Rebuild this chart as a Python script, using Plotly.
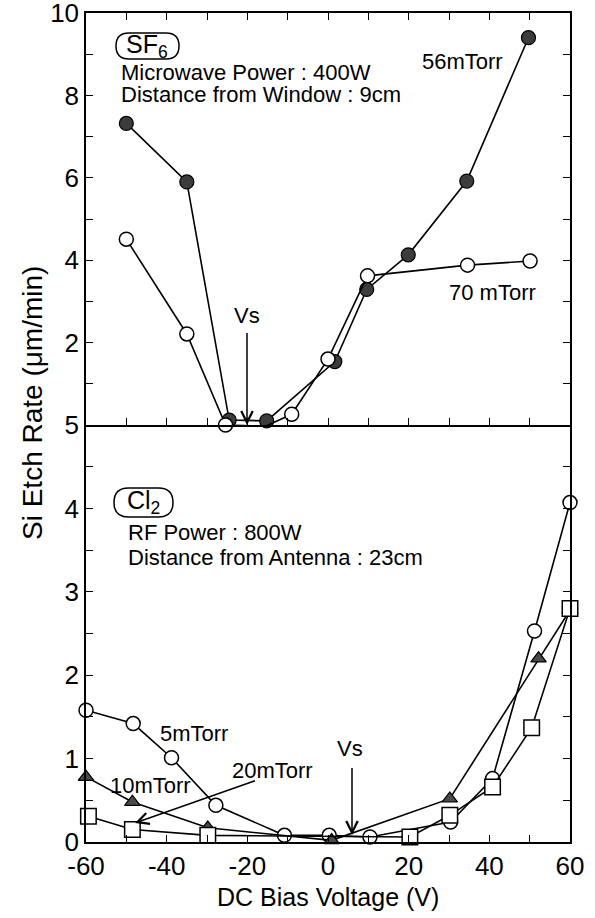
import plotly.graph_objects as go

# ---------------- data ----------------
# SF6 panel (top)
sf6_56_x = [-50, -35, -24.5, -15.2, 1.7, 9.6, 19.9, 34.4, 49.7]
sf6_56_y = [7.32, 5.90, 0.12, 0.10, 1.54, 3.29, 4.13, 5.92, 9.40]
sf6_70_x = [-50, -35, -25.4, -15.5, -9.0, 0.0, 9.8, 34.6, 50.1]
sf6_70_y = [4.51, 2.21, 0.00, -0.03, 0.26, 1.60, 3.62, 3.88, 3.98]

# Cl2 panel (bottom)
cl_5_x = [-60, -48.3, -38.8, -27.8, -10.8, 0.3, 10.4, 30.4, 40.8, 51.2, 60]
cl_5_y = [1.58, 1.42, 1.01, 0.44, 0.08, 0.08, 0.06, 0.24, 0.76, 2.53, 4.07]
cl_10_x = [-60, -48.5, -29.8, 0.9, 30.2, 52.2, 60]
cl_10_y = [0.78, 0.48, 0.17, 0.02, 0.52, 2.20, 2.78]
cl_20_x = [-59.4, -48.5, -29.8, 20.3, 30.2, 40.8, 50.5, 60]
cl_20_y = [0.31, 0.15, 0.08, 0.06, 0.32, 0.66, 1.37, 2.80]

x_ticks = list(range(-60, 61, 10))
x_ticktext = [str(v) if v % 20 == 0 else "" for v in x_ticks]
top_ticks = list(range(0, 11))
top_ticktext = [str(v) if (v % 2 == 0 and v > 0) else "" for v in top_ticks]
bot_ticks = [i * 0.5 for i in range(11)]
bot_ticktext = [str(int(v)) if v == int(v) else "" for v in bot_ticks]

FONT = "Liberation Sans, Arial, Helvetica, sans-serif"
W, H = 595, 918
L, R, T, B = 86, 570, 13, 842  # plot area in pixels
SPLIT = 425


def px(xp):
    return (xp - L) / (R - L)


def py(yp):
    return (B - yp) / (B - T)


fig = go.Figure()

line = dict(color="black", width=1.6)

# bottom panel traces
fig.add_trace(go.Scatter(x=cl_5_x, y=cl_5_y, mode="lines+markers", line=line,
                         marker=dict(symbol="circle", size=14, color="white",
                                     line=dict(color="black", width=1.5)),
                         xaxis="x", yaxis="y", cliponaxis=False, name="5mTorr"))
fig.add_trace(go.Scatter(x=cl_10_x, y=cl_10_y, mode="lines+markers", line=line,
                         marker=dict(symbol="triangle-up", size=13.5, color="#4a4a4a",
                                     line=dict(color="black", width=1.2)),
                         xaxis="x", yaxis="y", cliponaxis=False, name="10mTorr"))
fig.add_trace(go.Scatter(x=cl_20_x, y=cl_20_y, mode="lines+markers", line=line,
                         marker=dict(symbol="square", size=15.5, color="white",
                                     line=dict(color="black", width=1.5)),
                         xaxis="x", yaxis="y", cliponaxis=False, name="20mTorr"))

# top panel traces
fig.add_trace(go.Scatter(x=sf6_56_x, y=sf6_56_y, mode="lines+markers", line=line,
                         marker=dict(symbol="circle", size=14, color="#3c3c3c",
                                     line=dict(color="black", width=1.2)),
                         xaxis="x2", yaxis="y2", cliponaxis=False, name="56mTorr"))
fig.add_trace(go.Scatter(x=sf6_70_x, y=sf6_70_y, mode="lines+markers", line=line,
                         marker=dict(symbol="circle", size=14, color="white",
                                     line=dict(color="black", width=1.5)),
                         xaxis="x2", yaxis="y2", cliponaxis=False, name="70 mTorr"))

split = py(SPLIT)
axis_common = dict(showline=True, linecolor="black", linewidth=1.5, ticks="inside",
                   ticklen=7, tickwidth=1.3, tickcolor="black", showgrid=False,
                   zeroline=False, automargin=False, ticklabeloverflow="allow",
                   tickfont=dict(family=FONT, size=26, color="black"))

fig.update_layout(
    width=W, height=H,
    margin=dict(l=L, r=W - R, t=T, b=H - B, pad=0, autoexpand=False),
    paper_bgcolor="white", plot_bgcolor="white",
    showlegend=False,
    xaxis=dict(domain=[0, 1], range=[-60, 60], anchor="y", tickvals=x_ticks,
               ticktext=x_ticktext, mirror=False, **axis_common),
    xaxis2=dict(domain=[0, 1], range=[-60, 60], anchor="y2", matches="x",
                tickvals=x_ticks, showticklabels=False, mirror="ticks", **axis_common),
    yaxis=dict(domain=[0, split], range=[0, 5], anchor="x", tickvals=bot_ticks,
               ticktext=bot_ticktext, mirror="ticks", **axis_common),
    yaxis2=dict(domain=[split, 1], range=[0, 10], anchor="x2", tickvals=top_ticks,
                ticktext=top_ticktext, mirror="ticks", **axis_common),
)

ann = []


def text(t, xp, yp, size=21, xanchor="center"):
    ann.append(dict(text=t, x=px(xp), y=py(yp), xref="paper", yref="paper",
                    showarrow=False, xanchor=xanchor, yanchor="middle",
                    font=dict(family=FONT, size=size, color="black")))


def arrow(x_head, y_head, x_tail, y_tail):
    ann.append(dict(text=" ", x=px(x_head), y=py(y_head), xref="paper", yref="paper",
                    ax=x_tail - x_head, ay=y_tail - y_head, showarrow=True,
                    arrowhead=5, arrowsize=1.5, arrowwidth=1.5, arrowcolor="black",
                    standoff=0, font=dict(size=2)))


# axis titles
ann.append(dict(text="Si Etch Rate (μm/min)", x=px(33), y=py(403), xref="paper",
                yref="paper", showarrow=False, textangle=-90, xanchor="center",
                yanchor="middle", font=dict(family=FONT, size=28, color="black")))
text("DC Bias Voltage (V)", 328, 897, size=25)

# top panel texts
text("SF<sub>6</sub>", 147, 46, size=25)
text("Microwave Power : 400W", 119, 72, size=22, xanchor="left")
text("Distance from Window : 9cm", 119, 95, size=22, xanchor="left")
text("56mTorr", 462, 61, size=22)
text("70 mTorr", 492, 293, size=22)
text("Vs", 247, 315, size=22)
arrow(247, 425, 247, 330)

# bottom panel texts
text("Cl<sub>2</sub>", 143, 502, size=25)
text("RF Power : 800W", 126, 532, size=22, xanchor="left")
text("Distance from Antenna : 23cm", 126, 557, size=22, xanchor="left")
text("5mTorr", 194, 733, size=22)
text("10mTorr", 150, 785, size=22)
text("20mTorr", 272, 770, size=22)
text("Vs", 350, 748, size=22)
arrow(135, 823, 257, 780)
arrow(352, 835, 352, 765)

fig.update_layout(annotations=ann)


def capsule(x0, y0, x1, y1):
    r = (y1 - y0) / 2.0
    pts = [("M", [(x0 + r, y0)]), ("L", [(x1 - r, y0)]),
           ("Q", [(x1, y0), (x1, y0 + r)]), ("Q", [(x1, y1), (x1 - r, y1)]),
           ("L", [(x0 + r, y1)]), ("Q", [(x0, y1), (x0, y1 - r)]),
           ("Q", [(x0, y0), (x0 + r, y0)])]
    s = ""
    for cmd, ps in pts:
        s += cmd + " ".join(f"{px(a):.5f},{py(b):.5f}" for a, b in ps) + " "
    return s + "Z"


shapes = [
    dict(type="path", path=capsule(116, 33, 179, 59), xref="paper", yref="paper",
         line=dict(color="black", width=1.5)),
    dict(type="path", path=capsule(114, 488, 173, 517), xref="paper", yref="paper",
         line=dict(color="black", width=1.5)),
]
fig.update_layout(shapes=shapes)

fig.write_html("out.html", config={"displayModeBar": False},
               post_script="document.body.style.margin='0';"
                           "document.body.style.overflow='hidden';")
